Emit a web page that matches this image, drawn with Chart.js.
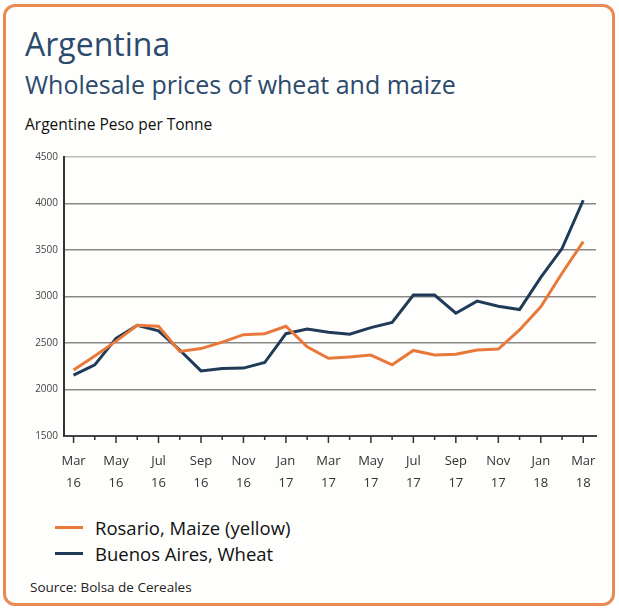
<!DOCTYPE html>
<html>
<head>
<meta charset="utf-8">
<script src="https://cdn.jsdelivr.net/npm/chart.js@4/dist/chart.umd.min.js"></script>
<style>
  body { margin: 0; background: #fff; font-family: "Open Sans", "Noto Sans", sans-serif; }
  #box { position: absolute; left: 3px; top: 4px; width: 606px; height: 596px; border: 3px solid #ea8a55; border-radius: 12px; background: #fefefc; }
  .t { position: absolute; left: 25px; white-space: nowrap; }
  #title { top: 22px; font-size: 32px; color: #2c4a6c; }
  #subtitle { top: 67px; font-size: 25px; color: #2c4a6c; }
  #unit { top: 113px; font-size: 15.5px; color: #111; }
  #wrap { position: absolute; left: 0; top: 140px; width: 619px; height: 360px; }
  #legend { position: absolute; left: 55px; top: 514px; font-size: 18.5px; color: #111; }
  .li { height: 26px; display: flex; align-items: center; }
  .sw { width: 28px; height: 3px; margin-right: 12px; }
  #source { top: 578px; font-size: 13.5px; color: #222; left: 30px; }
</style>
</head>
<body>
<div id="box"></div>
<div class="t" id="title">Argentina</div>
<div class="t" id="subtitle">Wholesale prices of wheat and maize</div>
<div class="t" id="unit">Argentine Peso per Tonne</div>
<div id="wrap"><canvas id="myChart"></canvas></div>
<div id="legend"></div>
<div class="t" id="source">Source: Bolsa de Cereales</div>
<script>
const months = ["Mar 16", "Apr 16", "May 16", "Jun 16", "Jul 16", "Aug 16", "Sep 16", "Oct 16", "Nov 16", "Dec 16",
    "Jan 17", "Feb 17", "Mar 17", "Apr 17", "May 17", "Jun 17", "Jul 17", "Aug 17", "Sep 17", "Oct 17", "Nov 17", "Dec 17",
    "Jan 18", "Feb 18", "Mar 18"];
const maize = [2210, 2360, 2520, 2690, 2680, 2410, 2440, 2510, 2590, 2600, 2680, 2460,
    2335, 2350, 2370, 2265, 2420, 2370, 2380, 2425, 2435, 2640, 2890, 3250, 3590];
const wheat = [2155, 2265, 2550, 2690, 2630, 2425, 2200, 2225, 2230, 2290, 2600, 2650,
    2615, 2595, 2665, 2720, 3015, 3015, 2820, 2950, 2895, 2860, 3205, 3515, 4035];
const seriesNames = ["Rosario, Maize (yellow)", "Buenos Aires, Wheat"];
const seriesColors = ["#e9793a", "#1f3b58"];
const yTicks = [1500, 2000, 2500, 3000, 3500, 4000, 4500];

// x tick marks: long at labelled months, short in between
const tickMarks = {
    id: "tickMarks",
    afterDraw(chart) {
        const x = chart.scales.x;
        const ctx = chart.ctx;
        ctx.save();
        ctx.strokeStyle = "#333";
        ctx.lineWidth = 1.5;
        months.forEach((m, i) => {
            const px = x.getPixelForValue(i);
            const len = i % 2 === 0 ? 7 : 4;
            ctx.beginPath();
            ctx.moveTo(px, x.top);
            ctx.lineTo(px, x.top + len);
            ctx.stroke();
        });
        ctx.restore();
    }
};

const chart = new Chart("myChart", {
    type: "line",
    data: {
        datasets: [maize, wheat].map((vals, k) => ({
            label: seriesNames[k],
            data: vals.map((v, i) => ({ x: i, y: v })),
            borderColor: seriesColors[k],
            borderWidth: 3,
            pointRadius: 0,
            tension: 0
        }))
    },
    options: {
        responsive: true,
        maintainAspectRatio: false,
        animation: false,
        layout: { padding: { left: 20, right: 23, top: 17, bottom: 10 } },
        plugins: { legend: { display: false }, tooltip: { enabled: false } },
        scales: {
            x: {
                type: "linear",
                min: -0.45,
                max: 24.6,
                afterBuildTicks: s => { s.ticks = months.map((m, i) => ({ value: i })); },
                afterFit: s => { s.height = 54; },
                grid: { display: false, drawTicks: false },
                border: { color: "#444", width: 2 },
                ticks: {
                    autoSkip: false,
                    maxRotation: 0,
                    padding: 15,
                    color: "#333",
                    font: { family: "Open Sans", size: 13, lineHeight: 1.65 },
                    callback: (v, i) => i % 2 === 0 ? months[i].split(" ") : ""
                }
            },
            y: {
                min: 1500,
                max: 4500,
                afterBuildTicks: s => { s.ticks = yTicks.map(v => ({ value: v })); },
                afterFit: s => { s.width = 44; },
                grid: { color: ctx => ctx.tick && ctx.tick.value === 4500 ? "#bbb" : "#888", lineWidth: 1.5, drawTicks: false },
                border: { color: "#333", width: 2 },
                ticks: {
                    padding: 6,
                    color: "#444",
                    font: { family: "Open Sans", size: 10 },
                    callback: v => String(v)
                }
            }
        }
    },
    plugins: [tickMarks]
});

const legendEl = document.getElementById("legend");
chart.data.datasets.forEach(ds => {
    const row = document.createElement("div");
    row.className = "li";
    const sw = document.createElement("span");
    sw.className = "sw";
    sw.style.background = ds.borderColor;
    const txt = document.createElement("span");
    txt.textContent = ds.label;
    row.appendChild(sw);
    row.appendChild(txt);
    legendEl.appendChild(row);
});
</script>
</body>
</html>
